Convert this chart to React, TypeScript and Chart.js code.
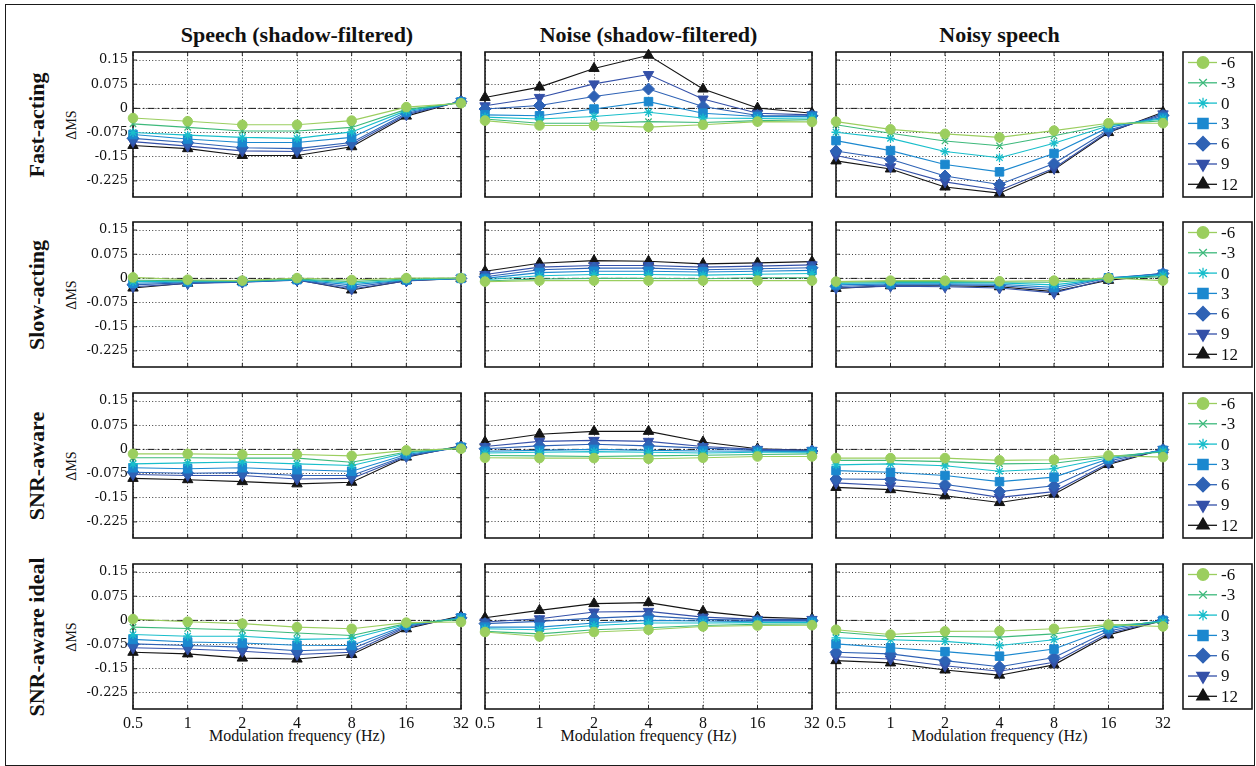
import React, { useEffect, useRef } from 'react';
import { Chart, registerables } from 'chart.js';
import { drawPoint } from 'chart.js/helpers';

Chart.register(...registerables);

// ---------- labels ----------
const freqLabels = ['0.5', '1', '2', '4', '8', '16', '32'];
const snrLabels = ['-6', '-3', '0', '3', '6', '9', '12'];
const yTickValues = [0.15, 0.075, 0, -0.075, -0.15, -0.225];
const yTickLabels = ['0.15', '0.075', '0', '-0.075', '-0.15', '-0.225'];
const columnTitles = ['Speech (shadow-filtered)', 'Noise (shadow-filtered)', 'Noisy speech'];
const rowTitles = ['Fast-acting', 'Slow-acting', 'SNR-aware', 'SNR-aware ideal'];
const yAxisTitle = 'ΔMS';
const xAxisTitle = 'Modulation frequency (Hz)';

// ---------- data (one row per SNR: -6, -3, 0, 3, 6, 9, 12) ----------
const speechFast = [
  [-0.030, -0.040, -0.051, -0.051, -0.038, 0.004, 0.016],
  [-0.048, -0.059, -0.070, -0.070, -0.059, -0.003, 0.018],
  [-0.075, -0.083, -0.090, -0.093, -0.073, -0.007, 0.019],
  [-0.081, -0.095, -0.106, -0.106, -0.090, -0.011, 0.020],
  [-0.093, -0.106, -0.122, -0.125, -0.106, -0.016, 0.021],
  [-0.103, -0.117, -0.132, -0.134, -0.112, -0.020, 0.022],
  [-0.115, -0.125, -0.146, -0.146, -0.119, -0.024, 0.023],
];
const noiseFast = [
  [-0.038, -0.053, -0.053, -0.058, -0.051, -0.041, -0.042],
  [-0.033, -0.046, -0.046, -0.041, -0.044, -0.038, -0.035],
  [-0.027, -0.033, -0.025, -0.012, -0.030, -0.031, -0.030],
  [-0.020, -0.023, -0.002, 0.021, -0.015, -0.025, -0.025],
  [-0.002, 0.009, 0.037, 0.060, 0.006, -0.022, -0.023],
  [0.008, 0.034, 0.076, 0.105, 0.029, -0.015, -0.020],
  [0.034, 0.066, 0.124, 0.165, 0.060, 0.001, -0.015],
];
const noisyFast = [
  [-0.041, -0.065, -0.079, -0.090, -0.069, -0.046, -0.046],
  [-0.051, -0.077, -0.101, -0.116, -0.085, -0.051, -0.038],
  [-0.074, -0.093, -0.134, -0.153, -0.108, -0.054, -0.032],
  [-0.100, -0.131, -0.174, -0.197, -0.140, -0.059, -0.028],
  [-0.132, -0.158, -0.210, -0.236, -0.171, -0.067, -0.022],
  [-0.146, -0.181, -0.228, -0.254, -0.186, -0.072, -0.017],
  [-0.163, -0.188, -0.244, -0.263, -0.190, -0.075, -0.012],
];
const speechSlow = [
  [0.003, -0.004, -0.007, 0.001, -0.005, 0.001, 0.001],
  [-0.006, -0.007, -0.008, -0.002, -0.010, -0.002, 0.001],
  [-0.010, -0.009, -0.009, -0.003, -0.015, -0.004, 0.000],
  [-0.015, -0.011, -0.010, -0.004, -0.020, -0.005, 0.000],
  [-0.020, -0.013, -0.011, -0.005, -0.027, -0.006, 0.000],
  [-0.026, -0.016, -0.012, -0.006, -0.033, -0.008, 0.000],
  [-0.030, -0.015, -0.010, -0.004, -0.036, -0.007, 0.000],
];
const noiseSlow = [
  [-0.010, -0.007, -0.007, -0.007, -0.007, -0.007, -0.007],
  [-0.008, -0.002, 0.000, 0.000, -0.001, 0.002, 0.002],
  [-0.004, 0.008, 0.012, 0.012, 0.010, 0.013, 0.015],
  [0.000, 0.018, 0.022, 0.022, 0.020, 0.022, 0.025],
  [0.005, 0.027, 0.032, 0.032, 0.027, 0.030, 0.033],
  [0.012, 0.035, 0.040, 0.040, 0.035, 0.038, 0.042],
  [0.022, 0.047, 0.055, 0.053, 0.045, 0.048, 0.052],
];
const noisySlow = [
  [-0.010, -0.007, -0.007, -0.009, -0.007, 0.001, -0.007],
  [-0.012, -0.010, -0.010, -0.011, -0.012, -0.001, 0.005],
  [-0.016, -0.013, -0.013, -0.014, -0.020, 0.000, 0.010],
  [-0.020, -0.017, -0.017, -0.018, -0.028, 0.002, 0.013],
  [-0.025, -0.020, -0.020, -0.022, -0.035, 0.001, 0.015],
  [-0.030, -0.024, -0.026, -0.030, -0.045, -0.002, 0.016],
  [-0.031, -0.023, -0.023, -0.026, -0.041, -0.006, 0.011],
];
const speechAware = [
  [-0.014, -0.014, -0.016, -0.016, -0.020, -0.003, 0.002],
  [-0.026, -0.026, -0.027, -0.027, -0.040, -0.008, 0.004],
  [-0.045, -0.042, -0.039, -0.045, -0.050, -0.011, 0.005],
  [-0.057, -0.060, -0.057, -0.063, -0.068, -0.016, 0.007],
  [-0.071, -0.074, -0.072, -0.081, -0.081, -0.020, 0.007],
  [-0.078, -0.081, -0.081, -0.092, -0.090, -0.022, 0.009],
  [-0.090, -0.094, -0.100, -0.107, -0.102, -0.024, 0.011],
];
const noiseAware = [
  [-0.026, -0.027, -0.027, -0.029, -0.026, -0.022, -0.022],
  [-0.019, -0.020, -0.022, -0.020, -0.018, -0.016, -0.014],
  [-0.011, -0.009, -0.007, -0.009, -0.011, -0.009, -0.009],
  [-0.006, -0.003, 0.000, -0.003, -0.005, -0.006, -0.007],
  [0.002, 0.011, 0.016, 0.011, 0.004, -0.003, -0.005],
  [0.009, 0.025, 0.028, 0.025, 0.009, 0.000, -0.003],
  [0.023, 0.047, 0.056, 0.056, 0.023, 0.002, -0.003],
];
const noisyAware = [
  [-0.027, -0.027, -0.027, -0.034, -0.032, -0.019, -0.024],
  [-0.034, -0.034, -0.038, -0.045, -0.043, -0.022, -0.008],
  [-0.048, -0.045, -0.051, -0.068, -0.060, -0.026, -0.005],
  [-0.066, -0.071, -0.081, -0.100, -0.086, -0.030, -0.003],
  [-0.092, -0.093, -0.109, -0.131, -0.113, -0.036, -0.001],
  [-0.104, -0.113, -0.123, -0.149, -0.131, -0.043, 0.000],
  [-0.118, -0.125, -0.144, -0.165, -0.139, -0.047, 0.000],
];
const speechIdeal = [
  [0.004, -0.004, -0.010, -0.021, -0.026, -0.007, -0.005],
  [-0.021, -0.025, -0.030, -0.039, -0.047, -0.010, 0.003],
  [-0.044, -0.049, -0.049, -0.059, -0.056, -0.013, 0.005],
  [-0.059, -0.067, -0.070, -0.077, -0.078, -0.015, 0.008],
  [-0.073, -0.078, -0.083, -0.094, -0.089, -0.018, 0.008],
  [-0.085, -0.089, -0.096, -0.106, -0.099, -0.021, 0.010],
  [-0.099, -0.104, -0.117, -0.120, -0.106, -0.026, 0.014],
];
const noiseIdeal = [
  [-0.036, -0.050, -0.036, -0.029, -0.019, -0.016, -0.015],
  [-0.034, -0.042, -0.029, -0.023, -0.016, -0.012, -0.011],
  [-0.026, -0.029, -0.016, -0.008, -0.008, -0.007, -0.007],
  [-0.021, -0.021, -0.008, 0.000, -0.002, -0.004, -0.004],
  [-0.010, -0.003, 0.007, 0.014, 0.003, 0.000, 0.000],
  [-0.005, 0.005, 0.026, 0.028, 0.010, 0.003, 0.003],
  [0.008, 0.031, 0.052, 0.055, 0.028, 0.010, 0.005],
];
const noisyIdeal = [
  [-0.029, -0.044, -0.034, -0.033, -0.026, -0.013, -0.019],
  [-0.036, -0.050, -0.050, -0.052, -0.042, -0.016, -0.006],
  [-0.054, -0.060, -0.065, -0.078, -0.060, -0.021, -0.003],
  [-0.073, -0.085, -0.097, -0.111, -0.089, -0.026, 0.000],
  [-0.099, -0.104, -0.125, -0.144, -0.115, -0.033, 0.000],
  [-0.113, -0.120, -0.141, -0.158, -0.130, -0.040, 0.000],
  [-0.125, -0.132, -0.154, -0.170, -0.138, -0.045, 0.000],
];

const panelData = [
  [speechFast, noiseFast, noisyFast],
  [speechSlow, noiseSlow, noisySlow],
  [speechAware, noiseAware, noisyAware],
  [speechIdeal, noiseIdeal, noisyIdeal],
];

// ---------- styles ----------
const seriesColors = ['#9BCE5F', '#3DB97B', '#18BECB', '#1B88CF', '#2E62B5', '#3450A8', '#141414'];
const seriesStyles = ['circle', 'crossRot', 'star', 'rect', 'rectRot', 'triangle', 'triangle'];
const seriesRotation = [0, 0, 0, 0, 0, 180, 0];
const seriesRadius = [4.8, 4.5, 4.5, 6, 6, 6, 6];

const SERIF = '"Liberation Serif", "Times New Roman", serif';
const TICK_SERIF = '"DejaVu Serif", serif';

// ---------- layout ----------
const PLOT_L = [133, 485, 836];
const PLOT_W = [328, 327, 327];
const PLOT_T = [52, 222, 393, 564];
const PLOT_H = 145;
const Y_MIN = -0.275;
const Y_MAX = 0.175;

const framePlugin = {
  id: 'panelFrame',
  beforeDatasetsDraw(chart: any) {
    const { ctx, chartArea: a, scales } = chart;
    ctx.save();
    // zero reference (dash-dot)
    const y0 = scales.y.getPixelForValue(0);
    ctx.strokeStyle = '#1a1a1a';
    ctx.lineWidth = 1;
    ctx.setLineDash([7, 3, 1.5, 3]);
    ctx.beginPath();
    ctx.moveTo(a.left, y0);
    ctx.lineTo(a.right, y0);
    ctx.stroke();
    ctx.setLineDash([]);
    // inner tick marks
    ctx.strokeStyle = '#222';
    ctx.beginPath();
    scales.y.ticks.forEach((t: any) => {
      const y = scales.y.getPixelForValue(t.value);
      ctx.moveTo(a.left, y);
      ctx.lineTo(a.left + 4, y);
      ctx.moveTo(a.right, y);
      ctx.lineTo(a.right - 4, y);
    });
    scales.x.ticks.forEach((_t: any, i: number) => {
      const x = scales.x.getPixelForTick(i);
      ctx.moveTo(x, a.bottom);
      ctx.lineTo(x, a.bottom - 4);
      ctx.moveTo(x, a.top);
      ctx.lineTo(x, a.top + 4);
    });
    ctx.stroke();
    // box
    ctx.lineWidth = 1.6;
    ctx.strokeStyle = '#1a1a1a';
    ctx.strokeRect(a.left, a.top, a.right - a.left, a.bottom - a.top);
    ctx.restore();
  },
};

const legendPlugin = {
  id: 'snrLegend',
  afterDraw(chart: any) {
    const { ctx, chartArea: a } = chart;
    const left = a.right + 20;
    const w = 69;
    const top = a.top;
    const h = a.bottom - a.top;
    ctx.save();
    ctx.fillStyle = '#ffffff';
    ctx.fillRect(left, top, w, h);
    ctx.lineWidth = 1.6;
    ctx.strokeStyle = '#1a1a1a';
    ctx.strokeRect(left, top, w, h);
    chart.data.datasets.forEach((ds: any, i: number) => {
      const y = top + 10.5 + i * 20.3;
      ctx.strokeStyle = ds.borderColor;
      ctx.fillStyle = ds.borderColor;
      ctx.lineWidth = 1.3;
      ctx.beginPath();
      ctx.moveTo(left + 5, y);
      ctx.lineTo(left + 34, y);
      ctx.stroke();
      drawPoint(
        ctx,
        { pointStyle: ds.pointStyle, rotation: ds.pointRotation, radius: ds.pointRadius * 1.2, borderWidth: 1.3 } as any,
        left + 20,
        y
      );
      ctx.fillStyle = '#111';
      ctx.font = `17px ${SERIF}`;
      ctx.textAlign = 'left';
      ctx.textBaseline = 'middle';
      ctx.fillText(ds.label, left + 38, y + 1);
    });
    ctx.restore();
  },
};

function Panel({ row, col }: { row: number; col: number }) {
  const ref = useRef<HTMLCanvasElement>(null);
  const padL = col === 0 ? 60 : 16;
  const padR = col === 2 ? 1256 - (PLOT_L[2] + PLOT_W[2]) : 16;
  const padT = 16;
  const padB = row === 3 ? 48 : 16;
  const left = PLOT_L[col] - padL;
  const top = PLOT_T[row] - padT;
  const width = PLOT_W[col] + padL + padR;
  const height = PLOT_H + padT + padB;

  useEffect(() => {
    const values = panelData[row][col];
    const datasets = values.map((series, i) => ({
      label: snrLabels[i],
      data: series,
      borderColor: seriesColors[i],
      backgroundColor: seriesColors[i],
      pointBackgroundColor: seriesColors[i],
      pointBorderColor: seriesColors[i],
      borderWidth: 1.1,
      pointStyle: seriesStyles[i],
      pointRotation: seriesRotation[i],
      pointRadius: seriesRadius[i],
      pointBorderWidth: i === 1 || i === 2 ? 1.3 : 1,
      tension: 0,
      clip: false as any,
    }));
    const gridCommon = { color: '#3a3a3a', lineWidth: 1, drawTicks: false };
    const chart = new Chart(ref.current as HTMLCanvasElement, {
      type: 'line',
      data: { labels: freqLabels, datasets },
      options: {
        responsive: false,
        animation: false,
        devicePixelRatio: 1,
        events: [],
        layout: { padding: { top: padT, right: padR, bottom: 0, left: 0 } },
        plugins: {
          legend: { display: false },
          tooltip: { enabled: false },
          title: { display: false },
        },
        scales: {
          x: {
            type: 'category',
            offset: false,
            afterFit: (s: any) => {
              s.height = padB;
            },
            ticks: {
              display: row === 3,
              autoSkip: false,
              maxRotation: 0,
              padding: 5,
              color: '#111',
              font: { family: SERIF, size: 16 },
            },
            grid: gridCommon,
            border: { display: false, dash: [1, 2.2] },
          },
          y: {
            type: 'linear',
            min: Y_MIN,
            max: Y_MAX,
            afterBuildTicks: (s: any) => {
              s.ticks = yTickValues.map((v) => ({ value: v }));
            },
            afterFit: (s: any) => {
              s.width = padL;
            },
            ticks: {
              display: col === 0,
              padding: 5,
              color: '#111',
              font: { family: TICK_SERIF, size: 13 },
              callback: (v: any) => yTickLabels[yTickValues.indexOf(Number(v))] ?? '',
            },
            grid: gridCommon,
            border: { display: false, dash: [1, 2.2] },
          },
        },
      } as any,
      plugins: col === 2 ? [framePlugin, legendPlugin] : [framePlugin],
    });
    return () => chart.destroy();
  }, [row, col]);

  return (
    <canvas
      ref={ref}
      width={width}
      height={height}
      style={{ position: 'absolute', left, top, width, height }}
    />
  );
}

function Label({
  x,
  y,
  text,
  size,
  bold,
  rotate,
}: {
  x: number;
  y: number;
  text: string;
  size: number;
  bold?: boolean;
  rotate?: boolean;
}) {
  return (
    <div
      style={{
        position: 'absolute',
        left: x,
        top: y,
        transform: `translate(-50%, -50%)${rotate ? ' rotate(-90deg)' : ''}`,
        fontFamily: SERIF,
        fontSize: size,
        fontWeight: bold ? 'bold' : 'normal',
        whiteSpace: 'nowrap',
        color: '#111',
        lineHeight: 1,
      }}
    >
      {text}
    </div>
  );
}

export default function App() {
  const panels = [];
  for (let r = 0; r < 4; r++) for (let c = 0; c < 3; c++) panels.push(<Panel key={`${r}-${c}`} row={r} col={c} />);
  return (
    <div style={{ position: 'absolute', left: 0, top: 0, width: 1256, height: 766, background: '#fff', overflow: 'hidden' }}>
      <div
        style={{
          position: 'absolute',
          left: 5,
          top: 4,
          width: 1250,
          height: 762,
          border: '1.6px solid #1a1a1a',
          boxSizing: 'border-box',
        }}
      />
      {columnTitles.map((t, c) => (
        <Label key={t} x={PLOT_L[c] + PLOT_W[c] / 2} y={35} text={t} size={22} bold />
      ))}
      {rowTitles.map((t, r) => (
        <React.Fragment key={t}>
          <Label x={37} y={PLOT_T[r] + PLOT_H / 2} text={t} size={22} bold rotate />
          <Label x={72} y={PLOT_T[r] + PLOT_H / 2} text={yAxisTitle} size={14} rotate />
        </React.Fragment>
      ))}
      {[0, 1, 2].map((c) => (
        <Label key={`xt${c}`} x={PLOT_L[c] + PLOT_W[c] / 2} y={736} text={xAxisTitle} size={16} />
      ))}
      {panels}
    </div>
  );
}
